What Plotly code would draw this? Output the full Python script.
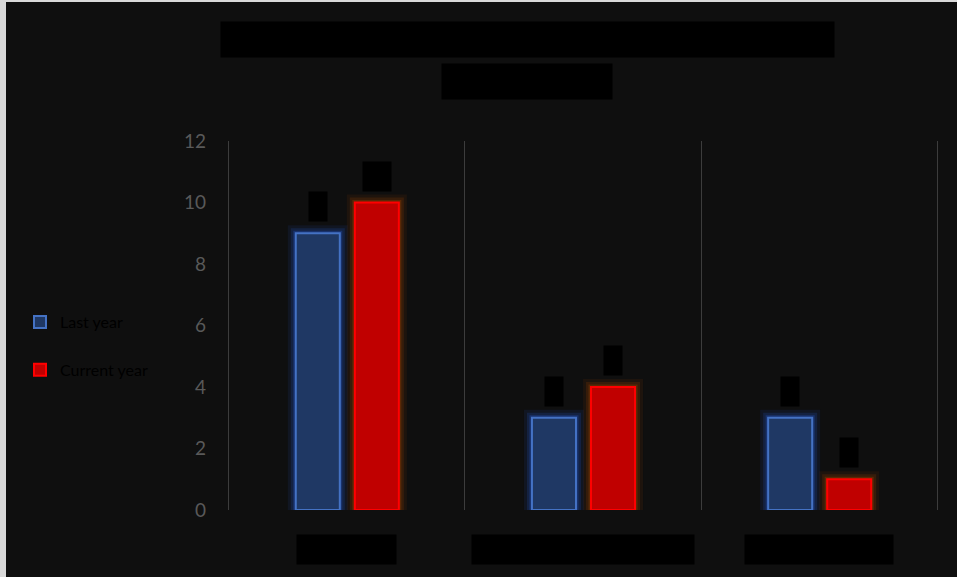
import plotly.graph_objects as go

categories = ["Category A", "Second Category Group B", "Third Category C"]
series_names = ["Last year", "Current year"]
values_a = [9, 3, 3]
values_b = [10, 4, 1]
y_ticks = [0, 2, 4, 6, 8, 10, 12]
title_text = "Number of Responses by Category: Previous vs Current Survey"
subtitle_text = "(Survey, n = 400)"

W, H = 957, 577
L, R, T, B = 224, 15, 141, 67
pw, ph = W - L - R, H - T - B

def px_x(p):
    return (p - L) / pw

def px_y(p):
    return (H - B - p) / ph

fig = go.Figure()

bar_w = 44 / 236
offs = [-51 / 236, 8 / 236]
fills = ["#1f3864", "#c00000"]
edges = ["#4472c4", "#ff0000"]
glows = [(40, 90, 210), (170, 70, 0)]
vals = [values_a, values_b]

# glow layers
for i in range(2):
    r, g, b = glows[i]
    for lw, a in [(16, 0.10), (10, 0.18), (5, 0.30)]:
        fig.add_trace(go.Bar(
            x=categories, y=vals[i], width=bar_w, offset=offs[i],
            marker=dict(color="rgba(0,0,0,0)", line=dict(color=f"rgba({r},{g},{b},{a})", width=lw)),
            showlegend=False, hoverinfo="skip"))

for i in range(2):
    fig.add_trace(go.Bar(
        x=categories, y=vals[i], name=series_names[i], width=bar_w, offset=offs[i],
        marker=dict(color=fills[i], line=dict(color=edges[i], width=2)),
        legendgroup=f"g{i}"))

annotations = []
# data labels
shifts = [-29, 30]
for i in range(2):
    for c, v in zip(categories, vals[i]):
        annotations.append(dict(
            x=c, y=v, xref="x", yref="y", text=str(v), showarrow=False,
            xshift=shifts[i], yshift=11, yanchor="bottom",
            font=dict(family="Lato", size=17, color="#000000"),
            bgcolor="#000000", borderpad=4))
# category labels
for c in categories:
    annotations.append(dict(
        x=c, y=0, xref="x", yref="paper", text=c, showarrow=False,
        yanchor="top", yshift=-24,
        font=dict(family="Lato", size=19, color="#000000"),
        bgcolor="#000000", borderpad=3))
# title and subtitle
annotations.append(dict(
    x=px_x(527), y=px_y(40), xref="paper", yref="paper", text=title_text,
    showarrow=False, xanchor="center", yanchor="middle",
    font=dict(family="Lato", size=22, color="#000000"),
    bgcolor="#000000", borderpad=4))
annotations.append(dict(
    x=px_x(527), y=px_y(82), xref="paper", yref="paper", text=subtitle_text,
    showarrow=False, xanchor="center", yanchor="middle",
    font=dict(family="Lato", size=22, color="#000000"),
    bgcolor="#000000", borderpad=4))

fig.update_layout(
    width=W, height=H,
    margin=dict(l=L, r=R, t=T, b=B),
    barmode="overlay",
    paper_bgcolor="#d9d9d9",
    plot_bgcolor="rgba(0,0,0,0)",
    shapes=[dict(type="rect", xref="paper", yref="paper",
                 x0=px_x(6), x1=px_x(W + 5), y0=px_y(H + 5), y1=px_y(2),
                 fillcolor="#0f0f0f", line=dict(width=0), layer="below")],
    annotations=annotations,
    showlegend=True,
    legend=dict(x=px_x(20), y=px_y(305), xanchor="left", yanchor="top",
                traceorder="grouped", tracegroupgap=24,
                font=dict(family="Lato", size=16, color="#000000"),
                bgcolor="rgba(0,0,0,0)"),
    xaxis=dict(type="category", range=[-0.52, 2.52], tickson="boundaries",
               showgrid=True, gridcolor="#3c3c3c", gridwidth=1,
               showticklabels=False, ticks="", showline=False, zeroline=False),
    yaxis=dict(range=[0, 12], tickvals=y_ticks, showgrid=False, zeroline=False,
               showline=False, ticks="", ticklabelstandoff=17,
               tickfont=dict(family="Lato", size=19, color="#595959")),
)

fig.write_html("out.html")
